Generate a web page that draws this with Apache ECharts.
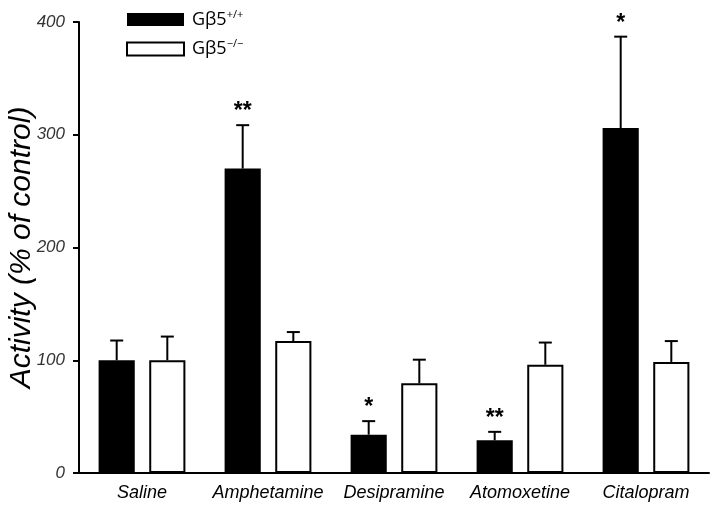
<!DOCTYPE html>
<html><head><meta charset="utf-8">
<script src="https://cdn.jsdelivr.net/npm/echarts@6/dist/echarts.min.js"></script>
<style>html,body{margin:0;padding:0;background:#fff}#c{width:714px;height:510px}</style>
</head><body><div id="c"></div>
<script>
var categories = ['Saline', 'Amphetamine', 'Desipramine', 'Atomoxetine', 'Citalopram'];
var wtValues = [100, 270, 34, 29, 306];
var wtUpper = [117.5, 308.5, 46, 36.5, 387];
var koValues = [100, 117, 79.5, 96, 98.5];
var koUpper = [121, 125, 100.5, 115.7, 117];
var wtSig = ['', '**', '*', '**', '*'];
var koSig = ['', '', '', '', ''];
var yTicks = [0, 100, 200, 300, 400];

var BAR_W = 0.287, GAP = 0.40;
function errSeries(values, upper, sig, side) {
  return {
    type: 'custom', z: 5, silent: true,
    data: values.map(function (v, i) { return [i, v, upper[i], sig[i]]; }),
    renderItem: function (params, api) {
      var i = api.value(0);
      var band = api.size([1, 0])[0];
      var bw = band * BAR_W, gp = bw * GAP;
      var off = side * (bw + gp) / 2;
      var top = api.coord([i, api.value(1)]);
      var up = api.coord([i, api.value(2)]);
      var x = top[0] + off;
      var s = {stroke: '#000', lineWidth: 2};
      var kids = [
        {type: 'line', shape: {x1: x, y1: top[1], x2: x, y2: up[1]}, style: s},
        {type: 'line', shape: {x1: x - 6.5, y1: up[1], x2: x + 6.5, y2: up[1]}, style: s}
      ];
      var t = api.value(3);
      if (t) {
        kids.push({type: 'text', style: {text: t, x: x, y: up[1] - 2, align: 'center', verticalAlign: 'bottom',
          fill: '#000', font: 'bold 23px "Liberation Sans", Arial'}});
      }
      return {type: 'group', children: kids};
    }
  };
}

var chart = echarts.init(document.getElementById('c'));
chart.setOption({
  animation: false,
  backgroundColor: '#fff',
  grid: {left: 79, right: 5, top: 22, bottom: 37, containLabel: false, outerBoundsMode: 'none'},
  legend: {
    left: 126, top: 9, padding: 0, orient: 'vertical', itemWidth: 57, itemHeight: 13, itemGap: 10,
    icon: 'rect',
    data: ['wt', 'ko'],
    formatter: function (n) { return n === 'wt' ? 'Gβ5{s|+/+}' : 'Gβ5{s|−/−}'; },
    textStyle: {fontFamily: '"Open Sans", "DejaVu Sans", sans-serif', fontSize: 18, color: '#000', padding: [0, 0, 0, 3],
      rich: {s: {fontSize: 11, verticalAlign: 'top', padding: [0, 0, 10, 0], fontFamily: '"Open Sans", sans-serif'}}}
  },
  xAxis: {
    type: 'category', data: categories, boundaryGap: true,
    axisLine: {lineStyle: {color: '#000', width: 2}},
    axisTick: {show: false},
    axisLabel: {interval: 0, fontStyle: 'italic', fontSize: 18, color: '#000', margin: 11, fontFamily: '"Liberation Sans", Arial'}
  },
  yAxis: {
    type: 'value', min: yTicks[0], max: yTicks[yTicks.length - 1], interval: 100,
    name: 'Activity (% of control)', nameLocation: 'middle', nameGap: 42, nameMoveOverlap: false,
    nameTextStyle: {fontStyle: 'italic', fontSize: 30, color: '#000', fontFamily: '"Liberation Sans", Arial'},
    axisLine: {show: true, lineStyle: {color: '#000', width: 2}},
    axisTick: {show: true, length: 6, lineStyle: {color: '#000', width: 2}},
    splitLine: {show: false},
    axisLabel: {fontStyle: 'italic', fontSize: 17, color: '#333', margin: 14, fontFamily: '"Liberation Sans", Arial'}
  },
  series: [
    {name: 'wt', type: 'bar', data: wtValues, barWidth: (BAR_W * 100) + '%', barGap: (GAP * 100) + '%',
      itemStyle: {color: '#000', borderColor: '#000', borderWidth: 0}},
    {name: 'ko', type: 'bar', data: koValues, barWidth: (BAR_W * 100) + '%',
      itemStyle: {color: '#fff', borderColor: '#000', borderWidth: 2}},
    errSeries(wtValues, wtUpper, wtSig, -1),
    errSeries(koValues, koUpper, koSig, 1)
  ]
});
</script></body></html>
